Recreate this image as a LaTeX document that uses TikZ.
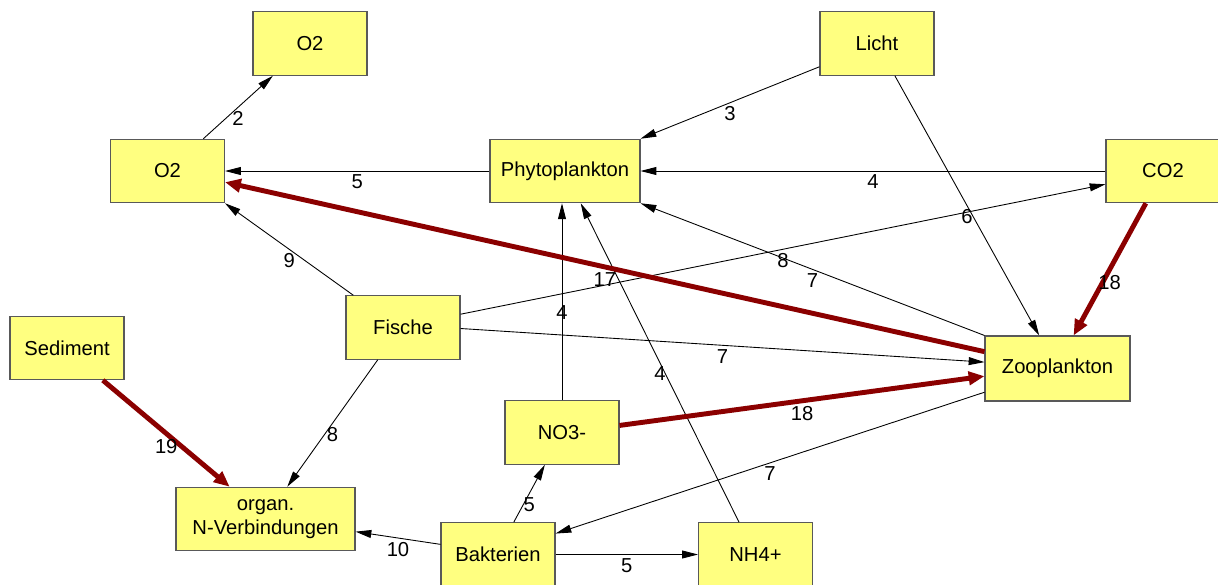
\documentclass[tikz,border=0pt]{standalone}
\usepackage{fontspec}
\setmainfont{Liberation Sans}
\usepackage{xcolor}
\usetikzlibrary{arrows.meta}
\definecolor{boxfill}{RGB}{255,255,128}
\definecolor{flowred}{RGB}{139,0,0}

\begin{document}
\begin{tikzpicture}[x=0.02cm, y=-0.02cm,
  every node/.style={font=\fontsize{11.5}{13.5}\selectfont},
  box/.style={draw=black!65, fill=boxfill, line width=0.6pt, minimum width=2.28cm,
    minimum height=1.27cm, inner sep=0pt, align=center},
  flow/.style={-{Triangle[length=9pt,width=4.5pt]}, line width=0.5pt},
  bigflow/.style={-{Triangle[length=9pt,width=7.5pt]}, line width=2.8pt, draw=flowred},
  val/.style={anchor=north, inner sep=0pt, yshift=-0.07cm}]
  \useasboundingbox (0,0) rectangle (1218,585);
  \node[box] (o2b) at (310,43.5) {O2};
  \node[box] (licht) at (877,43.5) {Licht};
  \node[box] (o2a) at (167.5,171) {O2};
  \node[box, minimum width=3cm] (phyto) at (565,171) {Phytoplankton};
  \node[box] (co2) at (1163,171) {CO2};
  \node[box] (sediment) at (67,348) {Sediment};
  \node[box] (fische) at (403,327.5) {Fische};
  \node[box, minimum width=2.9cm, minimum height=1.3cm] (zoo) at (1057.5,368.5) {Zooplankton};
  \node[box] (no3) at (562,432.5) {NO3-};
  \node[box, minimum width=3.58cm] (organ) at (265.5,519) {organ.\\N-Verbindungen};
  \node[box] (bakt) at (498,554.5) {Bakterien};
  \node[box] (nh4) at (755.5,554.5) {NH4+};

  \draw[flow] (o2a.42.8) -- (o2b.-139.6) node[val,midway] {2};
  \draw[flow] (licht.-158.5) -- (phyto.north east) node[val,midway] {3};
  \draw[flow] (phyto.west) -- (o2a.east) node[val,midway] {5};
  \draw[flow] (co2.west) -- (phyto.east) node[val,midway] {4};
  \draw[flow] (licht.-61.6) -- (zoo.119.6) node[val,midway] {6};
  \draw[flow] (fische.13.3) -- (co2.-167.9) node[val,midway] {8};
  \draw[flow] (zoo.north west) -- (phyto.south east) node[val,midway] {7};
  \draw[flow] (fische.147.8) -- (o2a.south east) node[val,midway] {9};
  \draw[flow] (no3.north) -- (no3.north |- phyto.south) node[val,midway] {4};
  \draw[flow] (nh4.117.6) -- (phyto.-64.9) node[val,midway] {4};
  \draw[flow] (fische.-1.5) -- (zoo.175.3) node[val,midway] {7};
  \draw[flow] (fische.-128) -- (organ.56.1) node[val,midway] {8};
  \draw[flow] (zoo.-162) -- (bakt.20.7) node[val,midway] {7};
  \draw[flow] (bakt.64.5) -- (no3.-118.4) node[val,midway] {5};
  \draw[flow] (bakt.170.5) -- (organ.-8.9) node[val,midway] {10};
  \draw[flow] (bakt.east) -- (nh4.west) node[val,midway] {5};
  \draw[bigflow] (zoo.167.2) -- (o2a.-11.5) node[val,midway] {17};
  \draw[bigflow] (co2.-118) -- (zoo.64.5) node[val,midway] {18};
  \draw[bigflow] (no3.7.4) -- (zoo.-174.9) node[val,midway] {18};
  \draw[bigflow] (sediment.-42.4) -- (organ.138) node[val,midway] {19};
\end{tikzpicture}
\end{document}
